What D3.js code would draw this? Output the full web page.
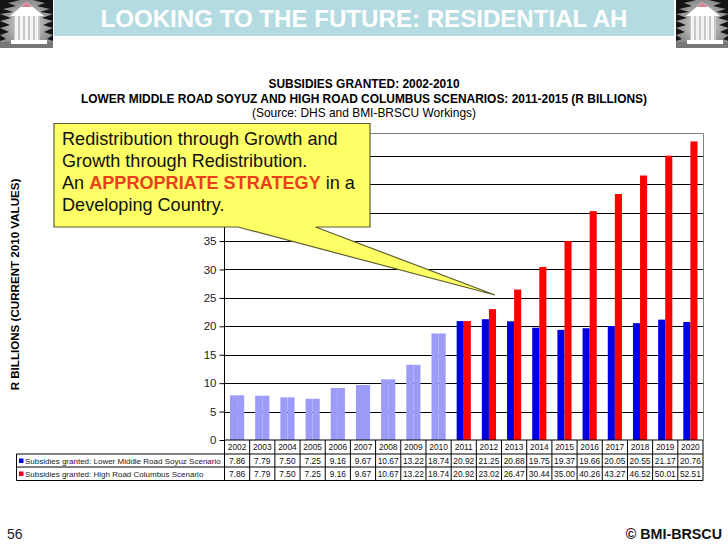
<!DOCTYPE html>
<html><head><meta charset="utf-8">
<script src="https://cdn.jsdelivr.net/npm/d3@7"></script>
<style>html,body{margin:0;padding:0;background:#fff}svg{display:block}text{font-family:"Liberation Sans",Arial,sans-serif}</style>
</head><body><svg id="c" width="728" height="546"></svg>
<script>
const years=[2002,2003,2004,2005,2006,2007,2008,2009,2010,2011,2012,2013,2014,2015,2016,2017,2018,2019,2020];
const lowerValues=[7.86,7.79,7.50,7.25,9.16,9.67,10.67,13.22,18.74,20.92,21.25,20.88,19.75,19.37,19.66,20.05,20.55,21.17,20.76];
const highValues=[7.86,7.79,7.50,7.25,9.16,9.67,10.67,13.22,18.74,20.92,23.02,26.47,30.44,35.00,40.26,43.27,46.52,50.01,52.51];
const seriesNames=["Subsidies granted: Lower Middle Road Soyuz Scenario","Subsidies granted: High Road Columbus Scenario"];
const yTicks=[0,5,10,15,20,25,30,35,40,45,50];
const titleLines=["SUBSIDIES GRANTED: 2002-2010","LOWER MIDDLE ROAD SOYUZ AND HIGH ROAD COLUMBUS SCENARIOS: 2011-2015 (R BILLIONS)","(Source: DHS and BMI-BRSCU Workings)"];
const calloutLines=[["Redistribution through Growth and"],["Growth through Redistribution."],["An ","APPROPRIATE STRATEGY"," in a"],["Developing Country."]];

const svg=d3.select("#c");
const L=224.5,R=703,T=133,B=440;
const x=d3.scaleBand().domain(years).range([L,R]);
const y=d3.scaleLinear().domain([0,54]).range([B,T]);
const inner=d3.scaleBand().domain([0,1]).range([0,x.bandwidth()]).paddingInner(0).paddingOuter(0.775);
const BLUE="#0000e6",RED="#ff0000",LIGHT="#9c9cf8";

// header
svg.append("rect").attr("x",54).attr("y",0).attr("width",620).attr("height",36).attr("fill","#b3dbe1");
svg.append("text").attr("x",364).attr("y",27).attr("text-anchor","middle").attr("font-size",24.1).attr("font-weight","bold").attr("fill","#fff").text("LOOKING TO THE FUTURE: RESIDENTIAL AH");

// icons
const grad=svg.append("defs").append("radialGradient").attr("id","iconBg");
grad.append("stop").attr("offset","0%").attr("stop-color","#e0e0e0");
grad.append("stop").attr("offset","100%").attr("stop-color","#8c8c8c");
function icon(g){
  g.append("rect").attr("width",53).attr("height",48).attr("fill","url(#iconBg)");
  g.append("path").attr("fill","#141414").attr("d","M0,0H20L8,3L16,6L3,9L13,12L0,14L11,18L0,21L10,25L0,28L9,32L0,35L6,39L0,41Z");
  g.append("path").attr("fill","#141414").attr("d","M53,0H33L45,3L37,6L50,9L40,12L53,14L42,18L53,21L43,25L53,28L44,32L53,35L47,39L53,41Z");
  g.append("rect").attr("y",42).attr("width",53).attr("height",6).attr("fill","#777");
  g.append("path").attr("fill","#fff").attr("d","M26.5,2L44,16H10Z");
  g.append("path").attr("fill","#d8838f").attr("d","M26.5,2L32,7H21Z");
  g.append("rect").attr("x",14).attr("y",16).attr("width",26).attr("height",24).attr("fill","#c8c8c8");
  [15,20,25,30,35].forEach(cx=>g.append("rect").attr("x",cx).attr("y",16).attr("width",3).attr("height",24).attr("fill","#f4f4f4"));
  g.append("rect").attr("x",11).attr("y",40).attr("width",36).attr("height",4).attr("fill","#fff");
}
icon(svg.append("g"));
icon(svg.append("g").attr("transform","translate(676,0)"));

// titles
svg.append("g").selectAll("text").data(titleLines).join("text")
 .attr("x",364).attr("y",(d,i)=>[88,103,117][i]).attr("text-anchor","middle")
 .attr("font-size",11.95).attr("font-weight",(d,i)=>i==2?"normal":"bold").attr("fill","#000").text(d=>d);

// y axis label
svg.append("text").attr("transform","translate(19,284.5) rotate(-90)").attr("text-anchor","middle").attr("font-size",11.6).attr("font-weight","bold").text("R BILLIONS (CURRENT 2010 VALUES)");

// plot frame
svg.append("path").attr("fill","none").attr("stroke","#808080").attr("d",`M${L},${T}.5H${R+.5}V${B}`);
const yAxis=d3.axisLeft(y).tickValues(yTicks).tickSize(5).tickSizeOuter(0).tickPadding(3).tickFormat(d=>d>35?"":d);
const ya=svg.append("g").attr("transform",`translate(${L},0)`).call(yAxis);
ya.select(".domain").attr("stroke","#000").attr("d",`M0,${B}V${T}`);
ya.selectAll("text").attr("font-size",11.5).attr("font-family",'"Liberation Sans"').attr("fill","#222");
svg.append("g").selectAll("line").data(yTicks.slice(1)).join("line")
 .attr("x1",L).attr("x2",R).attr("y1",d=>Math.round(y(d))+.5).attr("y2",d=>Math.round(y(d))+.5).attr("stroke","#000");

// bars
[lowerValues,highValues].forEach((vals,s)=>{
 svg.append("g").selectAll("rect").data(vals).join("rect")
  .attr("x",(d,i)=>x(years[i])+inner(s)).attr("width",inner.bandwidth())
  .attr("y",d=>y(d)).attr("height",d=>B-y(d))
  .attr("fill",(d,i)=>years[i]<=2010?LIGHT:(s==0?BLUE:RED));
});

// data table
const rows=[years.map(String),lowerValues.map(v=>v.toFixed(2)),highValues.map(v=>v.toFixed(2))];
const rowY=[440,454,467,480.5];
const tb=svg.append("g");
rows.forEach((row,r)=>{
 tb.append("g").selectAll("text").data(row).join("text")
  .attr("x",(d,i)=>x(years[i])+x.bandwidth()/2).attr("y",rowY[r]+10.2)
  .attr("text-anchor","middle").attr("font-size",8.4).attr("fill","#111").text(d=>d);
});
seriesNames.forEach((n,i)=>{
 tb.append("rect").attr("x",19).attr("y",rowY[i+1]+4.5).attr("width",4.5).attr("height",4.5).attr("fill",i?"#e0001a":BLUE);
 tb.append("text").attr("x",25).attr("y",rowY[i+1]+10).attr("font-size",8).attr("fill","#222").text(n);
});
const gp=d3.path();
x.domain().forEach(yr=>{gp.moveTo(x(yr),B);gp.lineTo(x(yr),480.5)});
gp.moveTo(R,B);gp.lineTo(R,480.5);
gp.moveTo(L,B);gp.lineTo(R,B);
[454,467,480.5].forEach(v=>{gp.moveTo(16.5,v);gp.lineTo(R,v)});
gp.moveTo(16.5,454);gp.lineTo(16.5,480.5);
tb.append("path").attr("d",gp.toString()).attr("stroke","#000").attr("stroke-width",1).attr("fill","none");

// callout
svg.append("path").attr("fill","#ffff66").attr("stroke","#5f5f2e").attr("stroke-width",1.2)
 .attr("d","M54,123.5H370V227H315.5L495,295L238,227H54Z");
const ct=svg.append("g").selectAll("text").data(calloutLines).join("text")
 .attr("x",62).attr("y",(d,i)=>145+i*21.9).attr("font-size",18.1).attr("fill","#111");
ct.selectAll("tspan").data(d=>d).join("tspan").text(d=>d)
 .attr("font-weight",d=>d==="APPROPRIATE STRATEGY"?"bold":"normal")
 .attr("fill",d=>d==="APPROPRIATE STRATEGY"?"#e8401a":"#111");

// footer
svg.append("text").attr("x",7).attr("y",539).attr("font-size",14).attr("fill","#222").text("56");
svg.append("text").attr("x",722).attr("y",539).attr("text-anchor","end").attr("font-size",14.3).attr("font-weight","bold").attr("fill","#111").text("© BMI-BRSCU");
</script></body></html>
